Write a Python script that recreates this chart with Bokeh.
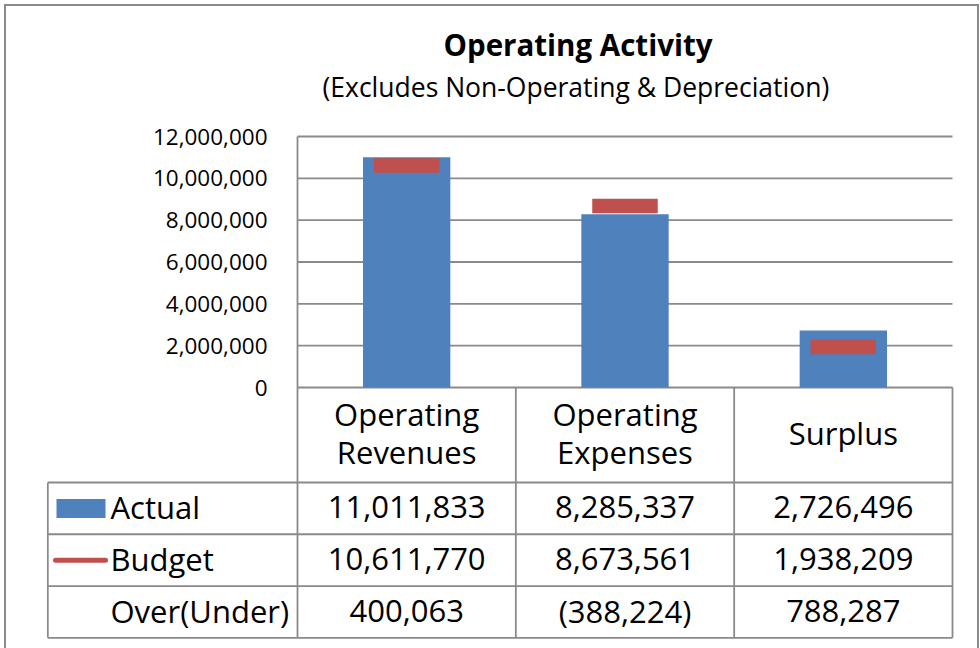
from bokeh.plotting import figure
from bokeh.models import Range1d, Title
from bokeh.core.properties import value
from bokeh.embed import file_html
from bokeh.resources import INLINE

# ---------------- data ----------------
categories = ["Operating Revenues", "Operating Expenses", "Surplus"]
actual = [11011833, 8285337, 2726496]
budget = [10611770, 8673561, 1938209]
row_labels = ["Actual", "Budget", "Over(Under)"]
y_ticks = [0, 2000000, 4000000, 6000000, 8000000, 10000000, 12000000]
title_text = "Operating Activity"
subtitle_text = "(Excludes Non-Operating & Depreciation)"

over_under = [a - b for a, b in zip(actual, budget)]


def fmt(v):
    return f"{v:,}" if v >= 0 else f"({-v:,})"


# ---------------- style / layout (page pixels) ----------------
FONT = "Open Sans"
BLUE = "#4F81BD"
RED = "#C0504D"
GRID = "#8a8a8a"
TXT = "#000000"
TABLE_FS = "31px"
LW = 1.8

OX, OY = 6, 6            # figure origin on page
W, H = 971, 642
PLOT_L, PLOT_R = 297, 952
TOP12, ZERO = 136, 387   # page y of top tick and of zero
HDR_B = 482              # bottom of header row / top of first table row
TBL_B = 637.3            # bottom of table
LEG_L = 47.3             # left edge of table legend column
FRAME_L, FRAME_R = 46, 954
FRAME_T, FRAME_B = 106, 640

ncat = len(categories)
nrows = len(row_labels)
u = (PLOT_R - PLOT_L) / ncat               # px per category
k = y_ticks[-1] / (ZERO - TOP12)           # value per px
R = (TBL_B - HDR_B) / nrows                # px per table row


def px_x(px):            # page x -> x data
    return (px - PLOT_L) / u


def px_t(py):            # page y -> table coordinate
    return nrows - (py - HDR_B) / R


xc = [i + 0.5 for i in range(ncat)]

p = figure(width=W, height=H,
           x_range=Range1d(px_x(FRAME_L), px_x(FRAME_R)),
           y_range=Range1d((ZERO - FRAME_B) * k, (ZERO - FRAME_T) * k),
           x_axis_location=None, y_axis_location=None,
           output_backend="svg", toolbar_location=None, title=None,
           min_border_left=FRAME_L - OX, min_border_right=OX + W - FRAME_R,
           min_border_top=FRAME_T - OY, min_border_bottom=OY + H - FRAME_B,
           styles={"margin": f"{OY}px 0 0 {OX}px",
                   "outline": "2px solid #8a8a8a"})
p.extra_y_ranges = {"table": Range1d(px_t(FRAME_B), px_t(FRAME_T))}
p.outline_line_color = None
p.grid.visible = False
p.background_fill_color = "white"
p.border_fill_color = "white"

# ---- value axis: grid lines, axis line, tick labels ----
p.segment(x0=[0] * len(y_ticks), y0=y_ticks, x1=[ncat] * len(y_ticks),
          y1=y_ticks, line_color=GRID, line_width=LW)
p.segment(x0=[0], y0=[y_ticks[0]], x1=[0], y1=[y_ticks[-1]],
          line_color=GRID, line_width=LW)
p.text(x=[0] * len(y_ticks), y=y_ticks, text=[f"{t:,}" for t in y_ticks],
       x_offset=-30, text_align="right", text_baseline="middle",
       text_font=value(FONT), text_font_size="22.5px", text_color=TXT)

# ---- bars and budget markers ----
p.vbar(x=xc, top=actual, bottom=0, width=0.4, fill_color=BLUE,
       line_color=None)
p.rect(x=xc, y=budget, width=0.3, height=14.5, height_units="screen",
       fill_color=RED, line_color=None)

# ---- header row (category names) ----
hdr_top = px_t(ZERO)
vx = list(range(ncat + 1))
p.segment(x0=vx, y0=[0] * len(vx), x1=vx, y1=[hdr_top] * len(vx),
          line_color=GRID, line_width=LW, y_range_name="table")
p.text(x=xc, y=px_t((ZERO + HDR_B) / 2), text=[c.replace(" ", "\n") for c in categories],
       text_align="center", text_baseline="middle", y_offset=-2,
       text_font=value(FONT), text_font_size=TABLE_FS, text_color=TXT,
       text_line_height=0.9, y_range_name="table")

# ---- data table ----
x_leg = px_x(LEG_L)
hy = list(range(nrows + 1))
p.segment(x0=[x_leg] * len(hy), y0=hy, x1=[ncat] * len(hy), y1=hy,
          line_color=GRID, line_width=LW, y_range_name="table")
p.segment(x0=[x_leg], y0=[0], x1=[x_leg], y1=[nrows],
          line_color=GRID, line_width=LW, y_range_name="table")

row_y = [nrows - 0.5 - r for r in range(nrows)]
p.text(x=px_x(110), y=row_y, text=row_labels, text_align="left",
       text_baseline="middle", y_offset=-1, text_font=value(FONT),
       text_font_size=TABLE_FS, text_color=TXT, y_range_name="table")
# legend swatches
p.rect(x=[px_x(80.5)], y=[row_y[0]], width=49 / u, height=19,
       height_units="screen", fill_color=BLUE, line_color=None,
       y_range_name="table")
p.segment(x0=[px_x(55)], y0=[row_y[1]], x1=[px_x(105)], y1=[row_y[1]],
          line_color=RED, line_width=5, line_cap="round",
          y_range_name="table")

cells_x, cells_y, cells_t = [], [], []
for r, series in enumerate([actual, budget, over_under]):
    for c, v in enumerate(series):
        cells_x.append(xc[c])
        cells_y.append(row_y[r])
        cells_t.append(fmt(v))
p.text(x=cells_x, y=cells_y, text=cells_t, text_align="center",
       text_baseline="middle", y_offset=-1, text_font=value(FONT),
       text_font_size=TABLE_FS, text_color=TXT, y_range_name="table")

# ---- titles ----
sub = Title(text=subtitle_text, align="left", offset=322 - FRAME_L,
            text_font=FONT, text_font_size="26.5px",
            text_font_style="normal", standoff=4, text_color=TXT)
main = Title(text=title_text, align="left", offset=443 - FRAME_L,
             text_font=FONT, text_font_size="29.5px",
             text_font_style="bold", standoff=0, text_color=TXT)
p.add_layout(sub, "above")
p.add_layout(main, "above")

open("out.html", "w").write(file_html(p, INLINE))
